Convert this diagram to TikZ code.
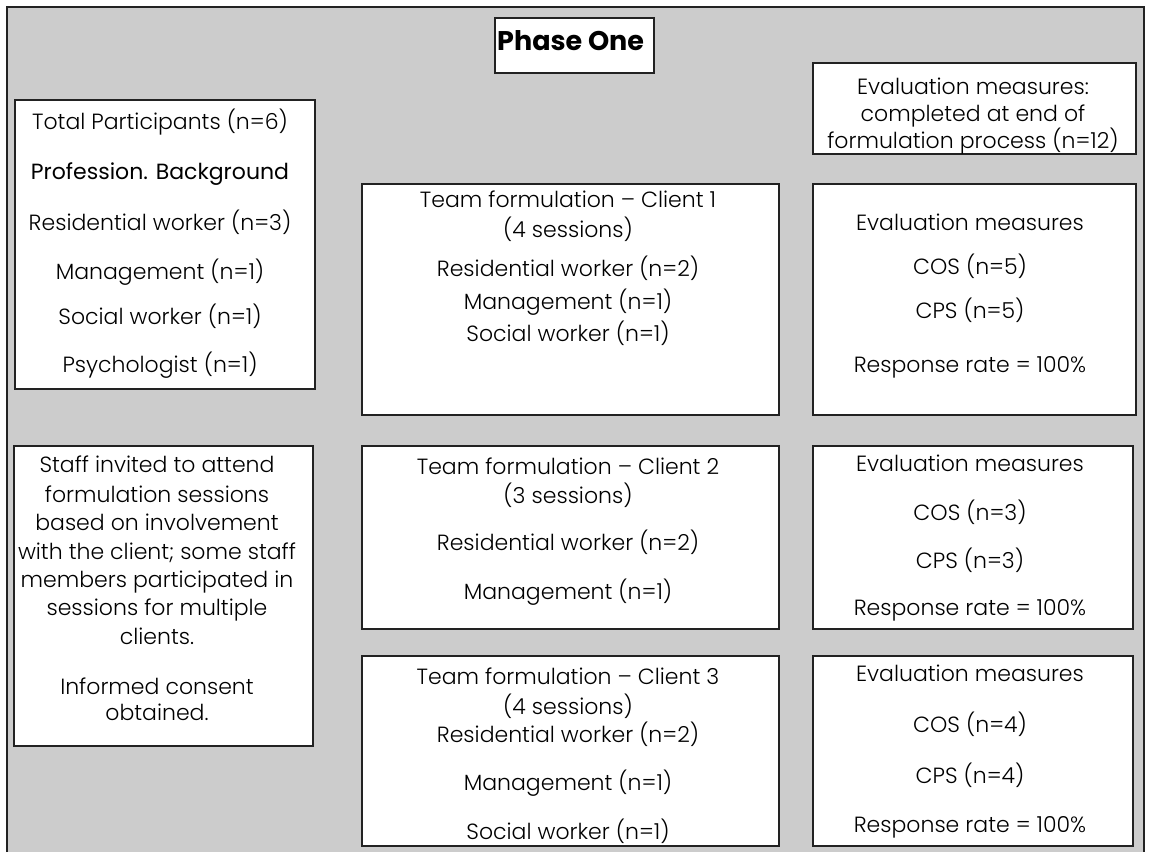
\documentclass[tikz,border=0pt]{standalone}
\usepackage{fontspec}
\setmainfont{Poppins}[UprightFont={* Light}, BoldFont={* Bold}]
\newfontfamily\headfont{Poppins}
\usetikzlibrary{positioning}
\definecolor{panelgrey}{HTML}{CCCCCC}
\definecolor{edge}{HTML}{222222}

\begin{document}
\begin{tikzpicture}[x=1pt, y=-1pt,
  box/.style={draw=edge, line width=1.5pt, fill=white, anchor=north west, inner sep=0pt},
  ln/.style={inner sep=0pt, text height=15pt, text depth=0pt, font=\fontsize{22}{26}\selectfont}]

  \useasboundingbox (0,0) rectangle (1151,852);

  % grey panel, open at the bottom
  \fill[panelgrey] (7,7) rectangle (1144,852);
  \draw[edge, line width=2pt] (7,852) -- (7,7) -- (1144,7) -- (1144,852);

  % title
  \node[box, minimum width=159pt, minimum height=55pt] (phase) at (494,17) {};
  \node[ln, anchor=west, text height=19pt, font=\fontsize{27}{30}\selectfont\bfseries] (phasetxt) at (497,41) {Phase One};

  % participants
  \node[box, minimum width=300pt, minimum height=289pt] (total) at (14,99) {};
  \foreach \y/\t [count=\i] in {122/{Total Participants (n=6)}, 172/{\headfont Profession. Background},
      223/{Residential worker (n=3)}, 272/{Management (n=1)}, 317/{Social worker (n=1)}, 365/{Psychologist (n=1)}}
    \node[ln] (total\i) at (160,\y) {\t};

  % recruitment note
  \node[box, minimum width=299pt, minimum height=300pt] (staff) at (13,445) {};
  \foreach \y/\t [count=\i] in {465/{Staff invited to attend}, 495/{formulation sessions}, 523/{based on involvement},
      552/{with the client; some staff}, 580/{members participated in}, 608/{sessions for multiple},
      637/{clients.}, 687/{Informed consent}, 713/{obtained.}}
    \node[ln] (staff\i) at (157,\y) {\t};

  % client sessions
  \node[box, minimum width=417pt, minimum height=231pt] (client1) at (361,183) {};
  \foreach \y/\t [count=\i] in {200/{Team formulation -- Client 1}, 230/{(4 sessions)}, 269/{Residential worker (n=2)},
      302/{Management (n=1)}, 334/{Social worker (n=1)}}
    \node[ln] (clienta\i) at (568,\y) {\t};

  \node[box, minimum width=417pt, minimum height=183pt] (client2) at (361,445) {};
  \foreach \y/\t [count=\i] in {467/{Team formulation -- Client 2}, 496/{(3 sessions)}, 543/{Residential worker (n=2)},
      592/{Management (n=1)}}
    \node[ln] (clientb\i) at (568,\y) {\t};

  \node[box, minimum width=417pt, minimum height=190pt] (client3) at (361,655) {};
  \foreach \y/\t [count=\i] in {677/{Team formulation -- Client 3}, 707/{(4 sessions)}, 735/{Residential worker (n=2)},
      783/{Management (n=1)}, 832/{Social worker (n=1)}}
    \node[ln] (clientc\i) at (568,\y) {\t};

  % evaluation
  \node[box, minimum width=323pt, minimum height=91pt] (evaltop) at (812,62) {};
  \foreach \y/\t [count=\i] in {87/{Evaluation measures:}, 114/{completed at end of}, 141/{formulation process (n=12)}}
    \node[ln] (evaltop\i) at (973,\y) {\t};

  \node[box, minimum width=323pt, minimum height=231pt] (eval1) at (812,183) {};
  \foreach \y/\t [count=\i] in {223/{Evaluation measures}, 267/{COS (n=5)}, 311/{CPS (n=5)}, 365/{Response rate = 100\%}}
    \node[ln] (evala\i) at (970,\y) {\t};

  \node[box, minimum width=320pt, minimum height=183pt] (eval2) at (812,445) {};
  \foreach \y/\t [count=\i] in {464/{Evaluation measures}, 513/{COS (n=3)}, 561/{CPS (n=3)}, 608/{Response rate = 100\%}}
    \node[ln] (evalb\i) at (970,\y) {\t};

  \node[box, minimum width=320pt, minimum height=190pt] (eval3) at (812,655) {};
  \foreach \y/\t [count=\i] in {674/{Evaluation measures}, 725/{COS (n=4)}, 776/{CPS (n=4)}, 825/{Response rate = 100\%}}
    \node[ln] (evalc\i) at (970,\y) {\t};

\end{tikzpicture}
\end{document}
